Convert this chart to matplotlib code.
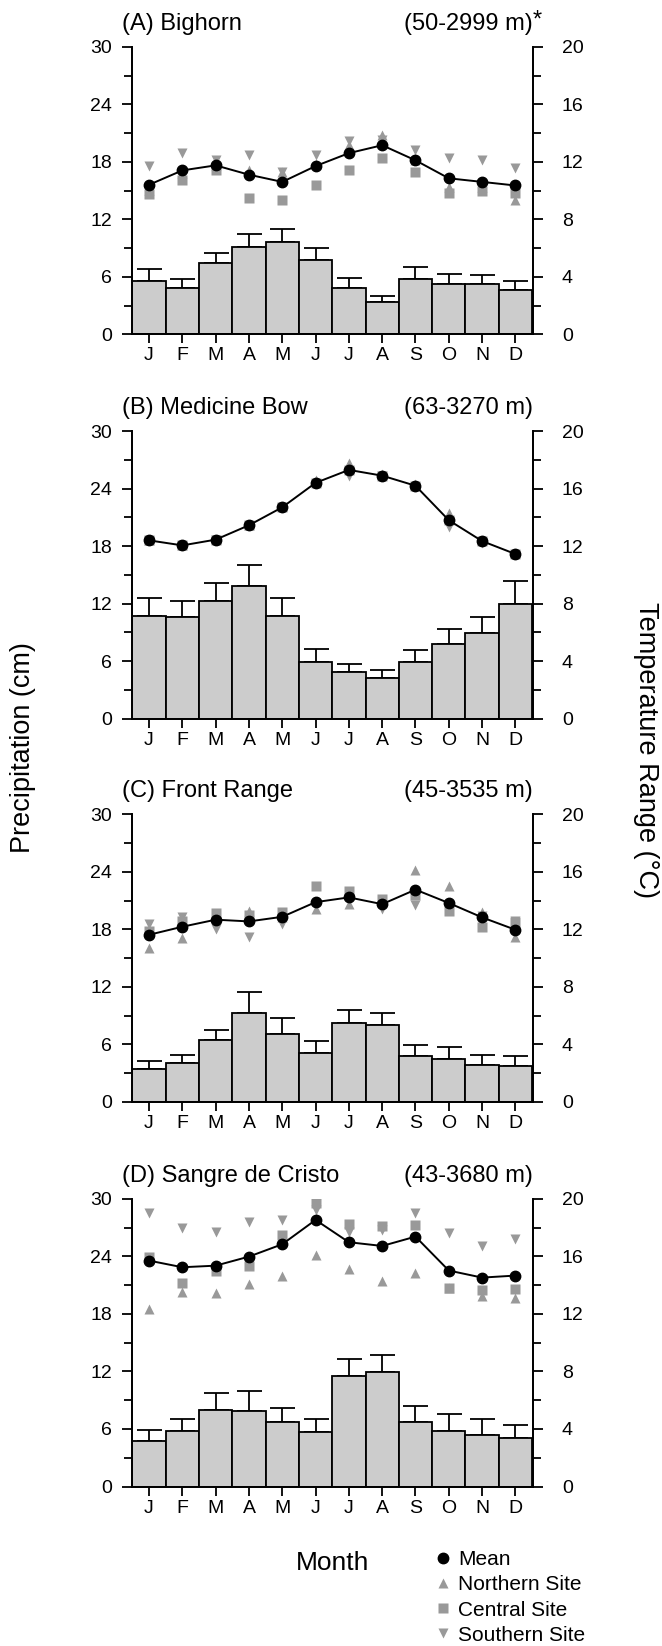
import numpy as np
import matplotlib
matplotlib.use("Agg")
import matplotlib.pyplot as plt
from matplotlib.lines import Line2D
from matplotlib.ticker import MultipleLocator

plt.rcParams["font.family"] = ["Liberation Sans", "DejaVu Sans"]

# month labels
months = ["J", "F", "M", "A", "M", "J", "J", "A", "S", "O", "N", "D"]

# panel titles
titles = ["(A) Bighorn", "(B) Medicine Bow", "(C) Front Range", "(D) Sangre de Cristo"]
elevations = ["(50-2999 m)", "(63-3270 m)", "(45-3535 m)", "(43-3680 m)"]

# precipitation (cm) - bar heights and upper error
precip_A = [5.6, 4.8, 7.4, 9.1, 9.6, 7.75, 4.8, 3.35, 5.8, 5.2, 5.3, 4.6]
precip_B = [10.7, 10.6, 12.25, 13.8, 10.7, 5.95, 4.9, 4.25, 5.95, 7.75, 8.9, 11.95]
precip_C = [3.4, 4.1, 6.5, 9.3, 7.1, 5.15, 8.25, 8.0, 4.8, 4.45, 3.9, 3.75]
precip_D = [4.7, 5.75, 8.0, 7.9, 6.7, 5.65, 11.55, 11.9, 6.7, 5.75, 5.4, 5.05]

err_A = [1.2, 1.0, 1.05, 1.36, 1.4, 1.25, 1.07, 0.69, 1.22, 1.12, 0.87, 0.94]
err_B = [1.88, 1.69, 1.85, 2.2, 1.91, 1.32, 0.84, 0.8, 1.22, 1.6, 1.67, 2.4]
err_C = [0.88, 0.8, 1.05, 2.13, 1.63, 1.19, 1.33, 1.33, 1.11, 1.33, 0.97, 1.04]
err_D = [1.22, 1.28, 1.74, 2.09, 1.49, 1.39, 1.78, 1.81, 1.67, 1.8, 1.67, 1.32]

# temperature range (C) - mean and sites
mean_A = [10.4, 11.4, 11.75, 11.1, 10.6, 11.7, 12.6, 13.15, 12.1, 10.85, 10.6, 10.35]
north_A = [10.05, 11.2, 11.8, 11.4, 11.3, 11.85, 13.15, 13.85, 12.15, 10.25, 10.25, 9.35]
central_A = [9.75, 10.75, 11.45, 9.45, 9.35, 10.4, 11.4, 12.25, 11.3, 9.85, 10.0, 9.85]
south_A = [11.7, 12.6, 12.15, 12.5, 11.3, 12.5, 13.45, 13.5, 12.8, 12.25, 12.1, 11.55]

mean_B = [12.4, 12.05, 12.45, 13.45, 14.7, 16.4, 17.3, 16.9, 16.2, 13.8, 12.35, 11.45]
north_B = [12.45, 12.1, 12.5, 13.5, 14.8, 16.6, 17.75, 17.05, 16.3, 14.3, 12.4, 11.5]
central_B = [12.4, 12.05, 12.45, 13.45, 14.7, 16.4, 17.3, 16.9, 16.2, 13.8, 12.35, 11.45]
south_B = [12.35, 12.0, 12.4, 13.4, 14.65, 16.3, 16.85, 16.85, 16.1, 13.3, 12.25, 11.4]

mean_C = [11.63, 12.19, 12.68, 12.56, 12.88, 13.9, 14.23, 13.76, 14.77, 13.84, 12.84, 11.98]
north_C = [10.7, 11.44, 13.1, 13.25, 12.9, 13.4, 13.8, 14.07, 16.16, 15.0, 13.2, 11.5]
central_C = [11.9, 12.56, 13.15, 13.0, 13.2, 15.0, 14.7, 14.1, 14.4, 13.3, 12.16, 12.5]
south_C = [12.4, 12.9, 12.05, 11.5, 12.35, 13.7, 13.95, 13.4, 13.7, 13.5, 12.95, 12.56]

mean_D = [15.71, 15.25, 15.36, 15.99, 16.85, 18.54, 16.99, 16.73, 17.38, 15.02, 14.53, 14.67]
north_D = [12.33, 13.5, 13.49, 14.07, 14.65, 16.1, 15.13, 14.3, 14.88, 13.8, 13.28, 13.09]
central_D = [15.99, 14.18, 14.99, 15.34, 17.5, 19.7, 18.26, 18.13, 18.2, 13.83, 13.67, 13.72]
south_D = [19.0, 17.96, 17.73, 18.42, 18.54, 19.2, 17.7, 17.85, 19.05, 17.6, 16.73, 17.2]

precip = [precip_A, precip_B, precip_C, precip_D]
errs = [err_A, err_B, err_C, err_D]
means = [mean_A, mean_B, mean_C, mean_D]
norths = [north_A, north_B, north_C, north_D]
centrals = [central_A, central_B, central_C, central_D]
souths = [south_A, south_B, south_C, south_D]

x = np.arange(1, 13)
gray = "#999999"
bar_gray = "#cccccc"

fig = plt.figure(figsize=(6.62, 16.46), dpi=100)

bottoms = [0.7969, 0.5634, 0.3305, 0.0969]
for i in range(4):
    ax = fig.add_axes([0.199, bottoms[i], 0.6057, 0.1747])
    ax2 = ax.twinx()

    # bars with upward error bars
    ax.bar(x, precip[i], width=1.0, color=bar_gray, edgecolor="black", linewidth=1.3, zorder=2)
    ax.errorbar(x, precip[i], yerr=[np.zeros(12), errs[i]], fmt="none", ecolor="black",
                elinewidth=1.3, capsize=9, capthick=1.3, zorder=1)
    ax.set_ylim(0, 30)
    ax.set_xlim(0.48, 12.52)
    ax.yaxis.set_major_locator(MultipleLocator(6))
    ax.yaxis.set_minor_locator(MultipleLocator(3))
    ax.set_xticks(x)
    ax.set_xticklabels(months)

    # temperature on right axis
    ax2.plot(x, norths[i], linestyle="none", marker="^", ms=7, color=gray, mec="none", zorder=3)
    ax2.plot(x, centrals[i], linestyle="none", marker="s", ms=6.5, color=gray, mec="none", zorder=3)
    ax2.plot(x, souths[i], linestyle="none", marker="v", ms=7, color=gray, mec="none", zorder=3)
    ax2.plot(x, means[i], color="black", lw=1.4, marker="o", ms=7.5, zorder=4)
    ax2.set_ylim(0, 20)
    ax2.yaxis.set_major_locator(MultipleLocator(4))
    ax2.yaxis.set_minor_locator(MultipleLocator(2))

    for a in (ax, ax2):
        a.spines["top"].set_visible(False)
        for s in ["left", "right", "bottom"]:
            a.spines[s].set_linewidth(1.3)
    ax.tick_params(axis="y", which="major", length=7, width=1.3, labelsize=14, pad=7)
    ax.tick_params(axis="y", which="minor", length=5.5, width=1.3)
    ax.tick_params(axis="x", length=6.5, width=1.3, labelsize=14, pad=3)
    ax2.tick_params(axis="y", which="major", length=7, width=1.3, labelsize=14, pad=14)
    ax2.tick_params(axis="y", which="minor", length=5.5, width=1.3)

    # titles
    ax.text(-0.025, 1.08, titles[i], transform=ax.transAxes, ha="left", va="center", fontsize=17)
    ax.text(1.0, 1.08, elevations[i], transform=ax.transAxes, ha="right", va="center", fontsize=17)
    if i == 0:
        ax.text(1.0, 1.09, "*", transform=ax.transAxes, ha="left", va="center", fontsize=17)

fig.text(0.035, 1 - 748 / 1646, "Precipitation (cm)", rotation=90, ha="center", va="center", fontsize=19.5)
fig.text(0.976, 1 - 750 / 1646, "Temperature Range (°C)", rotation=270, ha="center", va="center", fontsize=19.5)
fig.text(333 / 662, 1 - 1563 / 1646, "Month", ha="center", va="center", fontsize=19)

handles = [
    Line2D([], [], linestyle="none", marker="o", ms=7.5, color="black"),
    Line2D([], [], linestyle="none", marker="^", ms=7, color=gray, mec="none"),
    Line2D([], [], linestyle="none", marker="s", ms=6.5, color=gray, mec="none"),
    Line2D([], [], linestyle="none", marker="v", ms=7, color=gray, mec="none"),
]
fig.legend(handles, ["Mean", "Northern Site", "Central Site", "Southern Site"],
           loc="upper left", bbox_to_anchor=(437 / 662, 1 - 1550 / 1646), frameon=False,
           fontsize=15, handlelength=0.6, handletextpad=0.4, labelspacing=0.3,
           borderpad=0, borderaxespad=0)

fig.savefig("out.png", dpi=100)
